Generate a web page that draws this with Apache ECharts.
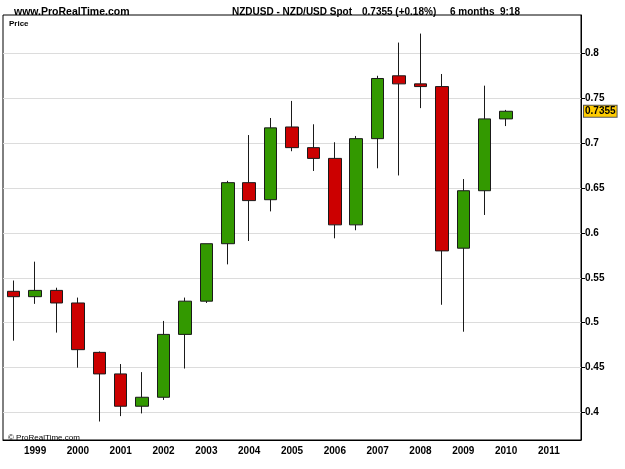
<!DOCTYPE html>
<html>
<head>
<meta charset="utf-8">
<script src="https://cdn.jsdelivr.net/npm/echarts@6/dist/echarts.min.js"></script>
<style>
  html, body { margin: 0; padding: 0; background: #fff; }
  #chart { width: 625px; height: 469px; }
</style>
</head>
<body>
<div id="chart"></div>
<script>
// 半年K线 (H1 = 1-6月, H2 = 7-12月)
const periods = [
  '1998-H2',
  '1999-H1', '1999-H2', '2000-H1', '2000-H2', '2001-H1', '2001-H2',
  '2002-H1', '2002-H2', '2003-H1', '2003-H2', '2004-H1', '2004-H2',
  '2005-H1', '2005-H2', '2006-H1', '2006-H2', '2007-H1', '2007-H2',
  '2008-H1', '2008-H2', '2009-H1', '2009-H2', '2010-H1', '2010-H2',
  '2011-H1', '2011-H2'
];
const opens  = [0.535, 0.529, 0.536, 0.522, 0.467, 0.443, 0.407, 0.417, 0.487, 0.524, 0.588, 0.656,
                0.637, 0.718, 0.695, 0.683, 0.609, 0.705, 0.775, 0.766, 0.763, 0.583, 0.647, 0.727];
const closes = [0.529, 0.536, 0.522, 0.470, 0.443, 0.407, 0.417, 0.487, 0.524, 0.588, 0.656, 0.636,
                0.717, 0.695, 0.683, 0.609, 0.705, 0.772, 0.766, 0.763, 0.580, 0.647, 0.727, 0.7355];
const lows   = [0.480, 0.521, 0.489, 0.450, 0.390, 0.396, 0.399, 0.414, 0.449, 0.522, 0.565, 0.591,
                0.624, 0.691, 0.669, 0.594, 0.603, 0.672, 0.664, 0.739, 0.520, 0.490, 0.620, 0.719];
const highs  = [0.547, 0.568, 0.539, 0.528, 0.468, 0.454, 0.445, 0.502, 0.528, 0.588, 0.658, 0.709,
                0.728, 0.747, 0.721, 0.701, 0.708, 0.775, 0.812, 0.822, 0.777, 0.660, 0.764, 0.737];
const priceTicks = [0.4, 0.45, 0.5, 0.55, 0.6, 0.65, 0.7, 0.75, 0.8];
const lastPrice = 0.7355;

// [open, close, low, high]
let kData = periods.map((p, i) => i < opens.length ? [opens[i], closes[i], lows[i], highs[i]] : '-');

let font = 'Liberation Sans, Arial, sans-serif';
let headStyle = { fontFamily: font, fontSize: 10, fontWeight: 'bold', color: '#000' };
let chart = echarts.init(document.getElementById('chart'));
let option = {
  backgroundColor: '#fff',
  animation: false,
  title: [
    { text: 'www.ProRealTime.com', left: 9, top: 2, textStyle: Object.assign({}, headStyle, { fontSize: 10.5 }) },
    { text: 'NZDUSD - NZD/USD Spot', left: 227, top: 2, textStyle: headStyle },
    { text: '0.7355 (+0.18%)', left: 357, top: 2, textStyle: headStyle },
    { text: '6 months  9:18', left: 445, top: 2, textStyle: headStyle },
    {
      text: 'Price', left: 4, top: 15,
      textStyle: { fontFamily: font, fontSize: 8, fontWeight: 'bold', color: '#000' }
    },
    {
      text: '© ProRealTime.com', left: 3, top: 429,
      textStyle: { fontFamily: font, fontSize: 8, fontWeight: 'normal', color: '#000' }
    }
  ],
  grid: {
    left: 3, right: 44, top: 15, bottom: 29,
    show: true, borderColor: '#000', borderWidth: 1, backgroundColor: '#fff'
  },
  xAxis: {
    type: 'category',
    data: periods,
    boundaryGap: true,
    axisLine: { show: true, lineStyle: { color: '#000', width: 1 } },
    axisTick: { show: false },
    splitLine: { show: false },
    axisLabel: {
      interval: (idx, val) => val.endsWith('H1'),
      formatter: val => val.slice(0, 4),
      margin: 6,
      fontFamily: font, fontSize: 10, fontWeight: 'bold', color: '#000'
    }
  },
  yAxis: {
    type: 'value',
    position: 'right',
    min: 0.3694,
    max: 0.8427,
    scale: true,
    axisLine: { show: true, lineStyle: { color: '#000', width: 1 } },
    axisTick: { show: true, length: 4, customValues: priceTicks, lineStyle: { color: '#000' } },
    axisLabel: {
      customValues: priceTicks,
      margin: 4,
      formatter: v => String(+v.toFixed(2)),
      fontFamily: font, fontSize: 10, fontWeight: 'bold', color: '#000'
    },
    splitLine: { show: true, lineStyle: { color: '#dcdcdc', width: 1 } }
  },
  series: [{
    type: 'candlestick',
    data: kData,
    barWidth: 13,
    clip: false,
    itemStyle: {
      color: '#339900',
      color0: '#cc0000',
      borderColor: '#1a1a1a',
      borderColor0: '#1a1a1a',
      borderWidth: 1
    },
    markLine: {
      silent: true,
      symbol: ['none', 'none'],
      lineStyle: { color: 'rgba(0,0,0,0)', width: 0 },
      data: [{ yAxis: lastPrice }],
      label: {
        show: true,
        position: 'end',
        distance: 3,
        offset: [0, 4],
        formatter: String(lastPrice),
        backgroundColor: '#ffcc00',
        borderColor: '#555',
        borderWidth: 1,
        padding: [1, 1, 0, 1],
        fontFamily: font, fontSize: 10, fontWeight: 'bold', color: '#000'
      }
    }
  }]
};
chart.setOption(option);
</script>
</body>
</html>
